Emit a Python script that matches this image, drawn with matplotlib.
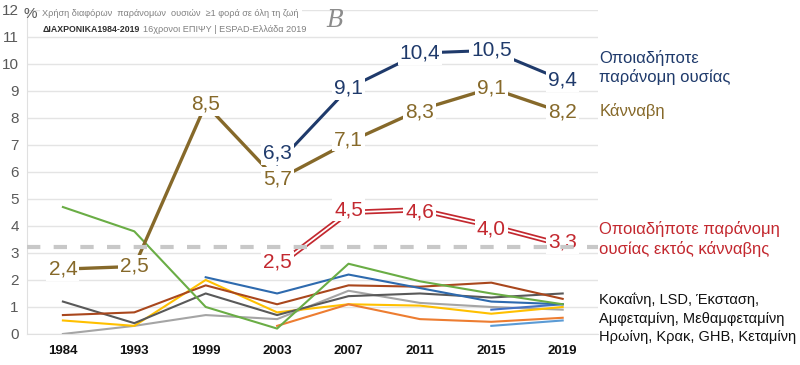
import matplotlib
matplotlib.use('Agg')
import matplotlib.pyplot as plt
import numpy as np

nan = np.nan

# data
years = ['1984', '1993', '1999', '2003', '2007', '2011', '2015', '2019']
any_illicit = [nan, nan, nan, 6.3, 9.1, 10.4, 10.5, 9.4]
cannabis = [2.4, 2.5, 8.5, 5.7, 7.1, 8.3, 9.1, 8.2]
no_cannabis = [nan, nan, nan, 2.5, 4.5, 4.6, 4.0, 3.3]

# individual substances (no legend in the original)
sub_green = [4.7, 3.8, 1.0, 0.2, 2.6, 1.95, 1.5, 1.1]
sub_blue = [nan, nan, 2.1, 1.5, 2.2, 1.7, 1.2, 1.1]
sub_brown = [0.7, 0.8, 1.8, 1.1, 1.8, 1.75, 1.9, 1.3]
sub_darkgray = [1.2, 0.4, 1.5, 0.7, 1.4, 1.5, 1.35, 1.5]
sub_yellow = [0.5, 0.3, 2.0, 0.8, 1.1, 1.05, 0.75, 1.0]
sub_lightgray = [0.0, 0.3, 0.7, 0.55, 1.6, 1.15, 1.0, 0.9]
sub_orange = [nan, nan, nan, 0.3, 1.1, 0.55, 0.45, 0.6]
sub_blue2 = [nan, nan, nan, nan, nan, nan, 0.9, 1.1]
sub_lightblue = [nan, nan, nan, nan, nan, nan, 0.3, 0.5]

threshold = 3.22

plt.rcParams['font.family'] = ['Liberation Sans', 'DejaVu Sans']

NAVY = '#1F3A6B'
OLIVE = '#86692A'
RED = '#C3282F'

fig = plt.figure(figsize=(8, 3.65), dpi=100)
ax = fig.add_axes([0.034, 0.085, 0.714, 0.888])
x = np.arange(len(years))

small = [
    (sub_lightgray, '#A5A5A5'),
    (sub_yellow, '#FFC000'),
    (sub_orange, '#ED7D31'),
    (sub_lightblue, '#5B9BD5'),
    (sub_blue2, '#4472C4'),
    (sub_darkgray, '#595959'),
    (sub_brown, '#A9471D'),
    (sub_blue, '#2E6AAE'),
    (sub_green, '#6AAD45'),
]
for vals, col in small:
    ax.plot(x, vals, color=col, lw=1.5, zorder=2)

ax.plot(x, cannabis, color=OLIVE, lw=2.4, zorder=3)
ax.plot(x, any_illicit, color=NAVY, lw=2.2, zorder=3)
ax.plot(x, no_cannabis, color=RED, lw=3.8, zorder=3, solid_capstyle='butt')
ax.plot(x, no_cannabis, color='white', lw=1.3, zorder=3.1, solid_capstyle='butt')


def fmt(v):
    return f'{v:.1f}'.replace('.', ',')


def labels(vals, col, shifts):
    for i, v in enumerate(vals):
        if np.isnan(v):
            continue
        ax.text(i, v + shifts.get(i, 0), fmt(v), color=col, fontsize=15,
                ha='center', va='center', zorder=5,
                bbox=dict(facecolor='white', edgecolor='none', pad=1.5))


labels(any_illicit, NAVY, {3: 0.4})
labels(cannabis, OLIVE, {3: 0.05, 4: 0.1, 5: -0.1})
labels(no_cannabis, RED, {3: 0.15, 4: 0.1, 5: -0.1, 6: -0.1, 7: 0.1})

ax.axhline(threshold, color='#C8C8C8', lw=3, dashes=(3.2, 3.2), zorder=6)

ax.set_xlim(-0.5, 7.5)
ax.set_ylim(0, 12)
ax.set_yticks(range(13))
ax.set_xticks(x)
ax.set_xticklabels(years, fontweight='bold', fontsize=9.5, color='#111111')
ax.tick_params(axis='y', length=0, labelsize=11, labelcolor='#595959', pad=6)
ax.tick_params(axis='x', length=0, pad=8)
ax.grid(axis='y', color='#E4E4E4', lw=1)
ax.set_axisbelow(True)
for s in ['top', 'right']:
    ax.spines[s].set_visible(False)
for s in ['left', 'bottom']:
    ax.spines[s].set_color('#E0E0E0')

# header texts
fig.text(0.029, 0.962, '%', fontsize=11, color='#595959', va='center')
fig.text(0.053, 0.962, 'Χρήση διαφόρων  παράνομων  ουσιών  ≥1 φορά σε όλη τη ζωή',
         fontsize=6.6, color='#808080', va='center',
         bbox=dict(facecolor='white', edgecolor='none', pad=2))
bold = fig.text(0.053, 0.918, 'ΔΙΑΧΡΟΝΙΚΑ1984-2019', fontsize=6.3,
                fontweight='bold', color='#303030', va='center',
                bbox=dict(facecolor='white', edgecolor='none', pad=1))
fig.add_artist(plt.Annotation('16χρονοι ΕΠΙΨΥ | ESPAD-Ελλάδα 2019',
                              xy=(1, 0.5), xycoords=bold,
                              xytext=(2, 0), textcoords='offset points',
                              fontsize=6.6, color='#808080', va='center',
                              bbox=dict(facecolor='white', edgecolor='none',
                                        pad=1)))
fig.text(0.408, 0.945, 'B', fontsize=17, color='#8C8C8C', style='italic',
         family='DejaVu Serif', va='center')

# right-hand series names
fig.text(0.749, 0.816, 'Οποιαδήποτε\nπαράνομη ουσίας', color=NAVY, fontsize=12,
         va='center', linespacing=1.25)
fig.text(0.749, 0.696, 'Κάνναβη', color=OLIVE, fontsize=12, va='center')
fig.text(0.749, 0.345, 'Οποιαδήποτε παράνομη\nουσίας εκτός κάνναβης', color=RED,
         fontsize=12, va='center', linespacing=1.25)
fig.text(0.749, 0.128, 'Κοκαΐνη, LSD, Έκσταση,\nΑμφεταμίνη, Μεθαμφεταμίνη\n'
         'Ηρωίνη, Κρακ, GHB, Κεταμίνη', color='#111111', fontsize=10.5,
         va='center', linespacing=1.45)

fig.savefig('out.png', dpi=100)
